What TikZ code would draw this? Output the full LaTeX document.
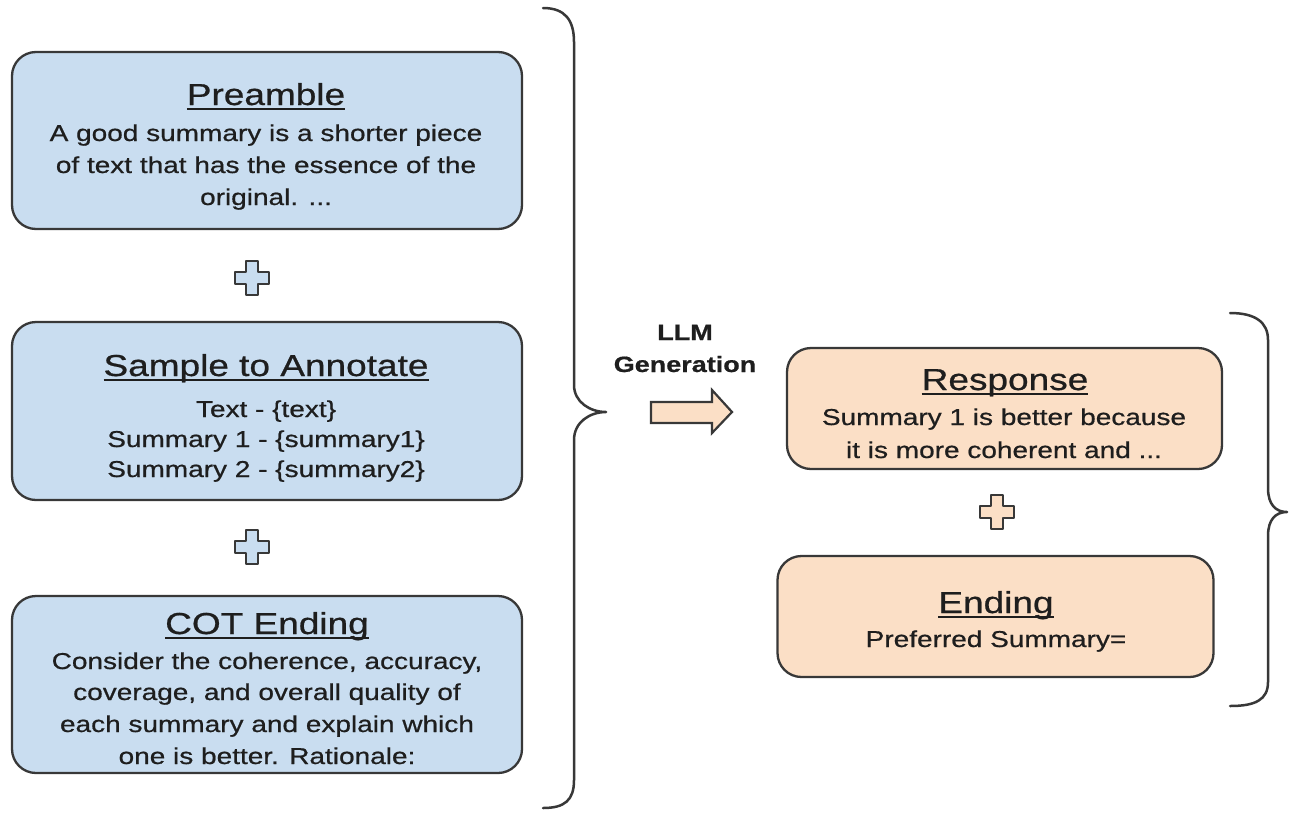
\documentclass[tikz,border=0pt]{standalone}
\usepackage{fontspec}
\usepackage{graphicx}
\setmainfont{Liberation Sans}[FakeBold=0.6]
\definecolor{boxblue}{HTML}{C9DDF0}
\definecolor{boxorange}{HTML}{FBDFC6}
\definecolor{edge}{HTML}{383838}
\definecolor{ink}{HTML}{1E1E1E}
% text is set slightly condensed vertically
\newcommand\vsq[1]{\scalebox{1}[0.82]{#1}}
% underlined heading
\newcommand\headline[1]{\setbox0\hbox{#1}\rlap{\rule[-6.5pt]{\wd0}{2.4pt}}\box0}
\tikzset{
  card/.style={draw=edge, line width=2.3pt, rounded corners=24pt},
  bluecard/.style={card, fill=boxblue},
  orangecard/.style={card, fill=boxorange},
  heading/.style={anchor=base, inner sep=0pt, text=ink, font=\fontsize{37}{40}\selectfont},
  bodyline/.style={anchor=base, inner sep=0pt, text=ink, font=\fontsize{28}{32}\selectfont},
  boldline/.style={anchor=base, inner sep=0pt, text=ink, font=\fontsize{27}{30}\selectfont\bfseries},
  brace/.style={draw=edge, line width=2.5pt, line cap=round, line join=round},
  pics/plussign/.style={code={
    \filldraw[draw=edge, line width=2.4pt, fill=#1, line join=round]
      (-6,-17) -- (6,-17) -- (6,-6) -- (17,-6) -- (17,6) -- (6,6) -- (6,17)
      -- (-6,17) -- (-6,6) -- (-17,6) -- (-17,-6) -- (-6,-6) -- cycle;}}
}
\begin{document}
\begin{tikzpicture}[x=1pt, y=-1pt]
\useasboundingbox (0,0) rectangle (1289,814);
\fill[white] (0,0) rectangle (1289,814);

% prompt parts
\node[bluecard, minimum width=510pt, minimum height=177pt] (pre) at (267,140.5) {};
\node[bluecard, minimum width=510pt, minimum height=178pt] (sam) at (267,411) {};
\node[bluecard, minimum width=510pt, minimum height=177pt] (cot) at (267,684.5) {};

\node[heading]  (preT) at (266,105) {\vsq{\headline{Preamble}}};
\node[bodyline] (pre1) at (266,141) {\vsq{A good summary is a shorter piece}};
\node[bodyline] (pre2) at (266,173) {\vsq{of text that has the essence of the}};
\node[bodyline] (pre3) at (266,205) {\vsq{original. ...}};

\node[heading]  (samT) at (266,376) {\vsq{\headline{Sample to Annotate}}};
\node[bodyline] (sam1) at (266,417) {\vsq{Text - \{text\}}};
\node[bodyline] (sam2) at (266,447) {\vsq{Summary 1 - \{summary1\}}};
\node[bodyline] (sam3) at (266,477) {\vsq{Summary 2 - \{summary2\}}};

\node[heading]  (cotT) at (267,634) {\vsq{\headline{COT Ending}}};
\node[bodyline] (cot1) at (267,669) {\vsq{Consider the coherence, accuracy,}};
\node[bodyline] (cot2) at (267,700) {\vsq{coverage, and overall quality of}};
\node[bodyline] (cot3) at (267,732) {\vsq{each summary and explain which}};
\node[bodyline] (cot4) at (267,764) {\vsq{one is better. Rationale:}};

\pic at (252,278) {plussign=boxblue};
\pic at (252,547) {plussign=boxblue};

% brace grouping the prompt
\draw[brace] (543,8) .. controls (565,8) and (574,20) .. (574,42) -- (574,385)
  .. controls (574,402) and (590,412) .. (606,412)
  .. controls (590,412) and (574,422) .. (574,440) -- (574,780)
  .. controls (574,800) and (565,808) .. (543,808);

% generation step
\node[boldline] (llm) at (685,340) {\vsq{LLM}};
\node[boldline] (gen) at (685,372) {\vsq{Generation}};
\filldraw[draw=edge, fill=boxorange, line width=2.2pt, line join=miter]
  (651,402) -- (712,402) -- (712,390) -- (732,412) -- (712,433) -- (712,423) -- (651,423) -- cycle;

% model output
\node[orangecard, minimum width=435pt, minimum height=121pt] (res) at (1004.5,408.5) {};
\node[orangecard, minimum width=436pt, minimum height=121pt] (end) at (995.5,616.5) {};

\node[heading]  (resT) at (1005,390) {\vsq{\headline{Response}}};
\node[bodyline] (res1) at (1004,425) {\vsq{Summary 1 is better because}};
\node[bodyline] (res2) at (1004,458) {\vsq{it is more coherent and ...}};

\node[heading]  (endT) at (996,613) {\vsq{\headline{Ending}}};
\node[bodyline] (end1) at (996,647) {\vsq{Preferred Summary=}};

\pic at (997,512) {plussign=boxorange};

\draw[brace] (1230,313) .. controls (1255,313) and (1268,322) .. (1268,340) -- (1268,488)
  .. controls (1268,505) and (1276,512) .. (1287,512)
  .. controls (1276,512) and (1268,519) .. (1268,536) -- (1268,682)
  .. controls (1268,700) and (1255,706) .. (1230,706);
\end{tikzpicture}
\end{document}
